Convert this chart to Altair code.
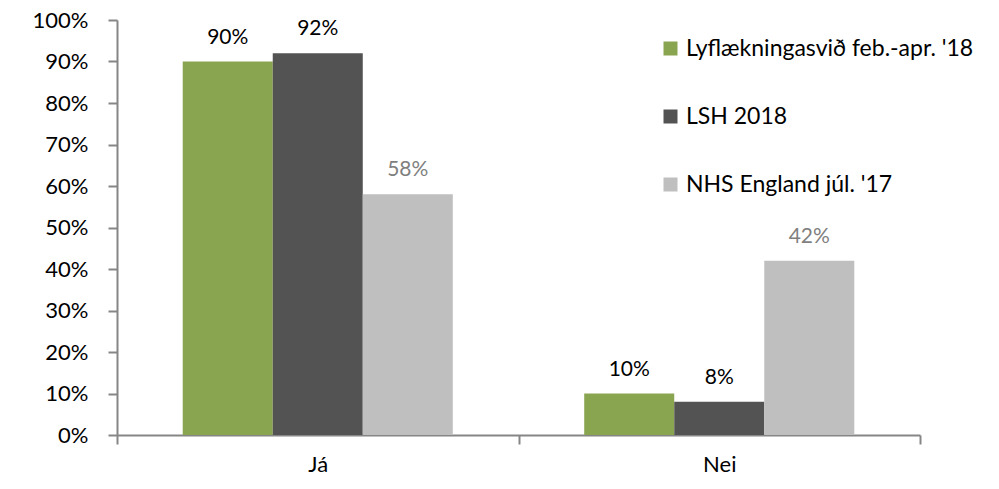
import altair as alt
import pandas as pd

categories = ["Já", "Nei"]
series = ["Lyflækningasvið feb.-apr. '18", "LSH 2018", "NHS England júl. '17"]
values = {
    "Lyflækningasvið feb.-apr. '18": [0.90, 0.10],
    "LSH 2018": [0.92, 0.08],
    "NHS England júl. '17": [0.58, 0.42],
}
colors = ["#8aa54f", "#535353", "#bfbfbf"]

rows = []
for s in series:
    for c, v in zip(categories, values[s]):
        rows.append({"cat": c, "series": s, "value": v})
df = pd.DataFrame(rows)

FONT = "Lato"
AXIS_COLOR = "#868686"

x = alt.X("cat:N", sort=categories, title=None,
          scale=alt.Scale(paddingInner=0, paddingOuter=0),
          axis=alt.Axis(labelAngle=0, labelFontSize=22, labelFont=FONT, labelColor="#000000",
                        domainColor=AXIS_COLOR, domainWidth=2, tickColor=AXIS_COLOR,
                        tickWidth=2, tickSize=9, tickBand="extent", labelPadding=10))
xo = alt.XOffset("series:N", sort=series,
                 scale=alt.Scale(paddingInner=0, paddingOuter=0.73))
y = alt.Y("value:Q", title=None,
          scale=alt.Scale(domain=[0, 1], nice=False),
          axis=alt.Axis(format=".0%", values=[i / 10 for i in range(11)], grid=False,
                        labelFontSize=22, labelFont=FONT, labelColor="#000000",
                        domainColor=AXIS_COLOR, domainWidth=2, tickColor=AXIS_COLOR,
                        tickWidth=2, tickSize=9, labelPadding=20))

bars = alt.Chart(df).mark_bar().encode(
    x=x, xOffset=xo, y=y,
    color=alt.Color("series:N", sort=series,
                    scale=alt.Scale(domain=series, range=colors),
                    legend=alt.Legend(title=None, orient="none", legendX=542, legendY=17,
                                      symbolType="square", symbolSize=196,
                                      symbolStrokeWidth=0, labelFont=FONT,
                                      labelFontSize=23, labelColor="#000000",
                                      labelOffset=4, rowPadding=44,
                                      labelLimit=400)),
)

labels = alt.Chart(df).mark_text(baseline="bottom", dy=-14, fontSize=21, font=FONT).encode(
    x=x, xOffset=xo, y=y,
    text=alt.Text("value:Q", format=".0%"),
    color=alt.condition(alt.datum.series == "NHS England júl. '17",
                        alt.value("#7f7f7f"), alt.value("#000000")),
)

chart = alt.layer(bars, labels).properties(
    width=803, height=415,
    autosize=alt.AutoSizeParams(type="none"),
    padding={"left": 109, "top": 12, "right": 71, "bottom": 46},
).configure_view(stroke=None)

chart.save("out.html", embed_options={"renderer": "svg", "actions": False})
